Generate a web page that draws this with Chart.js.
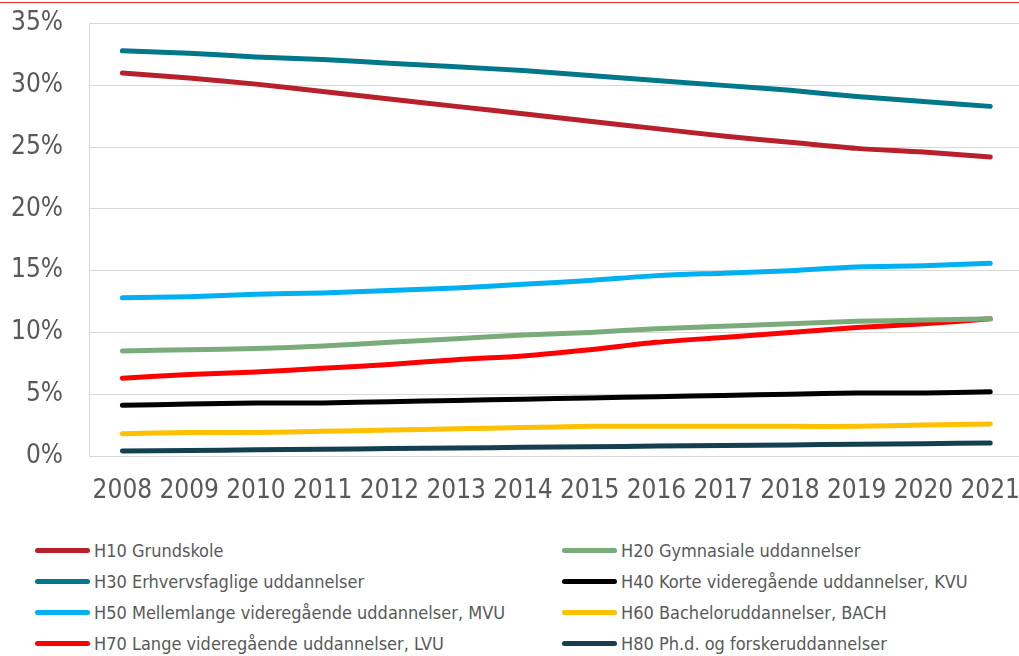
<!DOCTYPE html>
<html>
<head>
<meta charset="utf-8">
<script src="https://cdn.jsdelivr.net/npm/chart.js@4"></script>
<style>
    html, body { margin: 0; padding: 0; background: #fff; overflow: hidden; }
    body { width: 1019px; height: 656px; position: relative; }
    .chart-box { position: absolute; left: 0; top: -18px; width: 1040px; height: 538px; }
    .top-rule { position: absolute; left: 0; top: 2px; width: 1019px; height: 1px; background: #e8282b; z-index: 2; }
    .legend { position: absolute; left: 0; top: 535px; width: 1019px; font-family: 'DejaVu Sans Condensed', 'Noto Sans', sans-serif; font-size: 18px; color: #595959; }
    .legend-item { position: absolute; height: 31px; display: flex; align-items: center; white-space: nowrap; }
    .legend-swatch { width: 55px; height: 5px; border-radius: 3px; margin-right: 4px; }
</style>
</head>
<body>
<div class="chart-box"><canvas id="chart" width="1040" height="538"></canvas></div>
<div class="top-rule"></div>
<div class="legend" id="legend"></div>
<script>
    const years = ['2008', '2009', '2010', '2011', '2012', '2013', '2014', '2015', '2016', '2017', '2018', '2019', '2020', '2021'];

    const h10 = [31.0, 30.6, 30.1, 29.5, 28.9, 28.3, 27.7, 27.1, 26.5, 25.9, 25.4, 24.9, 24.6, 24.2];
    const h20 = [8.5, 8.6, 8.7, 8.9, 9.2, 9.5, 9.8, 10.0, 10.3, 10.5, 10.7, 10.9, 11.0, 11.1];
    const h30 = [32.8, 32.6, 32.3, 32.1, 31.8, 31.5, 31.2, 30.8, 30.4, 30.0, 29.6, 29.1, 28.7, 28.3];
    const h40 = [4.1, 4.2, 4.3, 4.3, 4.4, 4.5, 4.6, 4.7, 4.8, 4.9, 5.0, 5.1, 5.1, 5.2];
    const h50 = [12.8, 12.9, 13.1, 13.2, 13.4, 13.6, 13.9, 14.2, 14.6, 14.8, 15.0, 15.3, 15.4, 15.6];
    const h60 = [1.8, 1.9, 1.9, 2.0, 2.1, 2.2, 2.3, 2.4, 2.4, 2.4, 2.4, 2.4, 2.5, 2.6];
    const h70 = [6.3, 6.6, 6.8, 7.1, 7.4, 7.8, 8.1, 8.6, 9.2, 9.6, 10.0, 10.4, 10.7, 11.1];
    const h80 = [0.4, 0.45, 0.5, 0.55, 0.6, 0.65, 0.7, 0.75, 0.8, 0.85, 0.9, 0.95, 1.0, 1.05];

    const seriesNames = [
        'H10 Grundskole',
        'H20 Gymnasiale uddannelser',
        'H30 Erhvervsfaglige uddannelser',
        'H40 Korte videregående uddannelser, KVU',
        'H50 Mellemlange videregående uddannelser, MVU',
        'H60 Bacheloruddannelser, BACH',
        'H70 Lange videregående uddannelser, LVU',
        'H80 Ph.d. og forskeruddannelser'
    ];
    const seriesValues = [h10, h20, h30, h40, h50, h60, h70, h80];
    const seriesColors = ['#b8202b', '#7aab7a', '#00788a', '#000000', '#00b0f0', '#ffc000', '#ff0000', '#133f4f'];

    const FONT = "'DejaVu Sans Condensed', 'Noto Sans', sans-serif";
    const GRID = '#d9d9d9';
    const TEXT = '#595959';

    const datasets = seriesNames.map((name, i) => ({
        label: name,
        data: seriesValues[i],
        borderColor: seriesColors[i],
        backgroundColor: seriesColors[i],
        borderWidth: 5,
        borderCapStyle: 'round',
        pointRadius: 0,
        tension: 0.3,
        fill: false
    }));

    new Chart(document.getElementById('chart'), {
        type: 'line',
        data: { labels: years, datasets },
        options: {
            responsive: false,
            animation: false,
            layout: { padding: { top: 5, right: 0, left: 0, bottom: 0 } },
            plugins: { legend: { display: false }, tooltip: { enabled: false } },
            scales: {
                x: {
                    offset: true,
                    grid: { display: false, drawTicks: false },
                    border: { display: true, color: GRID, width: 1 },
                    ticks: { color: TEXT, font: { family: FONT, size: 26 }, padding: 20, maxRotation: 0, autoSkip: false },
                    afterFit: s => { s.height = 64; }
                },
                y: {
                    min: 0,
                    max: 35,
                    grid: { color: GRID, lineWidth: 1, drawTicks: false },
                    border: { display: true, color: GRID, width: 1 },
                    ticks: { stepSize: 5, color: TEXT, font: { family: FONT, size: 26 }, padding: 26, callback: v => v + '%' },
                    afterFit: s => { s.width = 89; }
                }
            }
        }
    });

    // legend: two columns, four rows, same order as the reference
    const legend = document.getElementById('legend');
    const colX = [35, 562];
    seriesNames.forEach((name, i) => {
        const item = document.createElement('div');
        item.className = 'legend-item';
        item.style.left = colX[i % 2] + 'px';
        item.style.top = (Math.floor(i / 2) * 31) + 'px';
        const sw = document.createElement('div');
        sw.className = 'legend-swatch';
        sw.style.background = seriesColors[i];
        const tx = document.createElement('span');
        tx.textContent = name;
        item.appendChild(sw);
        item.appendChild(tx);
        legend.appendChild(item);
    });
</script>
</body>
</html>
